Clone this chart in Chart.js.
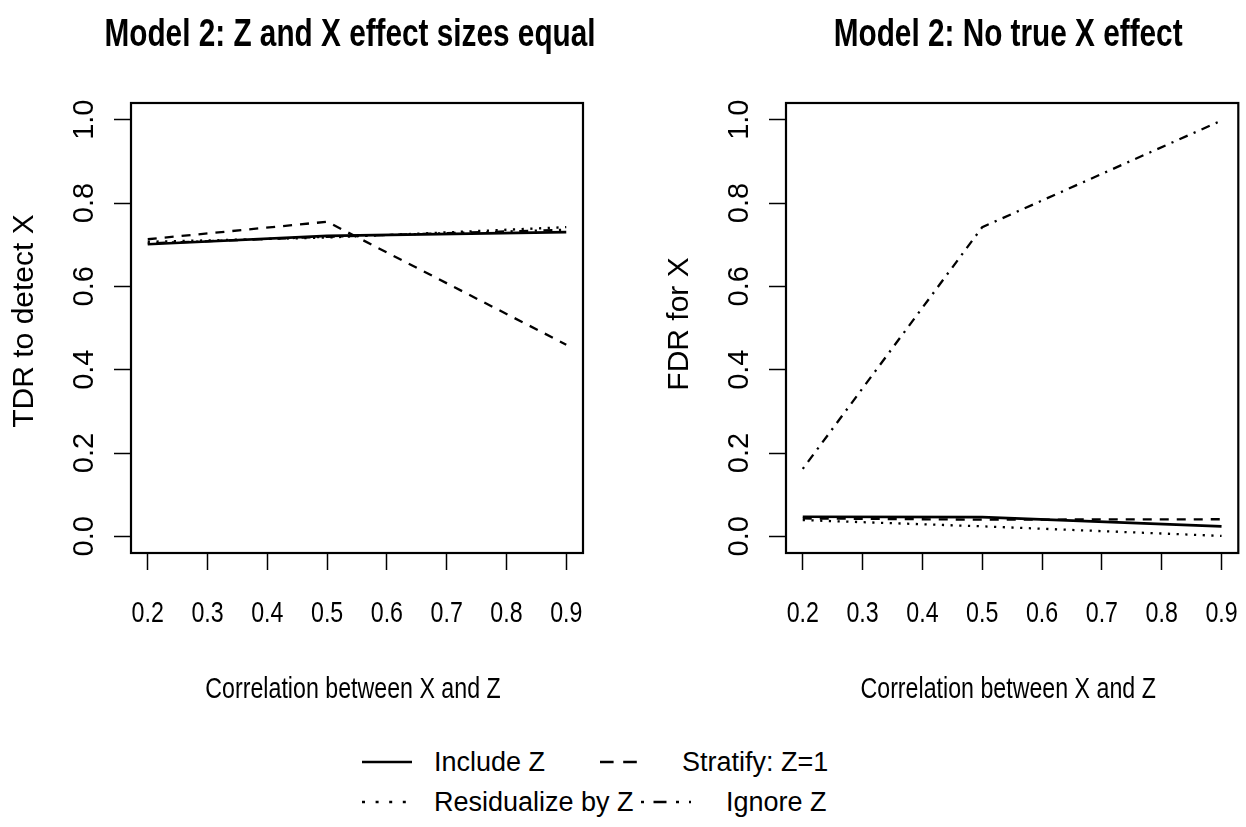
<!DOCTYPE html>
<html>
<head>
<meta charset="utf-8">
<script src="https://cdn.jsdelivr.net/npm/chart.js@4.4.1/dist/chart.umd.min.js"></script>
<style>
  body { margin: 0; background: #fff; width: 1246px; height: 827px; position: relative; overflow: hidden; }
  canvas { position: absolute; top: 0; }
  #left { left: 0; }
  #right { left: 655px; }
  .leg-text { position: absolute; font-family: 'Liberation Sans', Arial, sans-serif; font-size: 27px; line-height: 30px; color: #000; white-space: nowrap; }
  .leg-seg { position: absolute; }
</style>
</head>
<body>
<canvas id="left" width="623" height="720"></canvas>
<canvas id="right" width="591" height="720"></canvas>
<div id="legend"></div>
<script>
// Valeurs
const correlations = [0.2, 0.5, 0.9];
const xTicks = [0.2, 0.3, 0.4, 0.5, 0.6, 0.7, 0.8, 0.9];
const yTicks = [0, 0.2, 0.4, 0.6, 0.8, 1.0];
const methods = ['Include Z', 'Stratify: Z=1', 'Residualize by Z', 'Ignore Z'];

// Panneau gauche : TDR
const tdrInclude = [0.701, 0.721, 0.730];
const tdrStratify = [0.713, 0.755, 0.460];
const tdrResidualize = [0.707, 0.717, 0.742];
const tdrIgnore = [0.703, 0.719, 0.736];

// Panneau droit : FDR
const fdrInclude = [0.047, 0.046, 0.024];
const fdrStratify = [0.043, 0.040, 0.041];
const fdrResidualize = [0.039, 0.024, 0.001];
const fdrIgnore = [0.162, 0.742, 0.998];

// Styles des lignes (comme lty 1, 2, 3, 4 de R)
const dashes = [[], [9, 8], [2.2, 6.5], [2.2, 6.5, 9, 6.5]];
const widths = [2.6, 2.3, 2.3, 2.3];

const regular = "'Liberation Sans', Arial, sans-serif";

// Cadre autour de la zone de tracé
const boxPlugin = {
    id: 'box',
    afterDraw(chart) {
        const { ctx, chartArea: a } = chart;
        ctx.save();
        ctx.strokeStyle = '#000';
        ctx.lineWidth = 2.2;
        ctx.strokeRect(a.left, a.top, a.right - a.left, a.bottom - a.top);
        ctx.restore();
    }
};

// Textes : titre, graduations x et titre x en police étroite (comme Helvetica Narrow), titre y tourné
const panelText = {
    id: 'panelText',
    afterDraw(chart, args, opts) {
        const { ctx, chartArea: a, scales } = chart;
        const cx = (a.left + a.right) / 2;
        const cy = (a.top + a.bottom) / 2;
        const put = (text, x, y, font, sx, rot) => {
            ctx.save();
            ctx.translate(x, y);
            if (rot) ctx.rotate(rot);
            ctx.scale(sx, 1);
            ctx.font = font;
            ctx.fillStyle = '#000';
            ctx.textAlign = 'center';
            ctx.textBaseline = rot ? 'middle' : 'alphabetic';
            ctx.fillText(text, 0, 0);
            ctx.restore();
        };
        put(opts.title, cx + opts.titleShift, 46, 'bold 39px ' + regular, 0.763);
        xTicks.forEach(v => put(v.toFixed(1), scales.x.getPixelForValue(v), 621.5, '29px ' + regular, 0.8));
        put(opts.xTitle, cx - 4, 698, '29px ' + regular, 0.8);
        put(opts.yTitle, 25, cy + opts.yShift, '30px ' + regular, 1, -Math.PI / 2);
    }
};

const tickGrid = { drawOnChartArea: false, drawTicks: true, tickLength: 17, tickColor: '#000', tickWidth: 1.5 };

function makeChart(id, title, yLabel, series, padRight, titleShift, yShift) {
    return new Chart(document.getElementById(id), {
        type: 'line',
        data: {
            datasets: series.map((vals, i) => ({
                label: methods[i],
                data: correlations.map((c, j) => ({ x: c, y: vals[j] })),
                borderColor: '#000',
                borderWidth: widths[i],
                borderDash: dashes[i],
                pointRadius: 0,
                tension: 0,
                fill: false
            }))
        },
        options: {
            responsive: false,
            animation: false,
            layout: { padding: { left: 0, right: padRight, top: 103, bottom: 0 } },
            plugins: {
                legend: { display: false },
                tooltip: { enabled: false },
                title: { display: false },
                panelText: {
                    title: title,
                    titleShift: titleShift,
                    xTitle: 'Correlation between X and Z',
                    yTitle: yLabel,
                    yShift: yShift
                }
            },
            scales: {
                x: {
                    type: 'linear',
                    position: 'bottom',
                    min: 0.172,
                    max: 0.928,
                    afterBuildTicks: s => { s.ticks = xTicks.map(v => ({ value: v })); },
                    afterFit: s => { s.height = 167; },
                    grid: tickGrid,
                    border: { display: false },
                    ticks: { display: false, autoSkip: false }
                },
                y: {
                    type: 'linear',
                    position: 'left',
                    min: -0.04,
                    max: 1.04,
                    afterBuildTicks: s => { s.ticks = yTicks.map(v => ({ value: v })); },
                    afterFit: s => { s.width = 131; },
                    grid: tickGrid,
                    border: { display: false },
                    ticks: {
                        color: '#000',
                        font: { family: regular, size: 29 },
                        minRotation: 90,
                        maxRotation: 90,
                        crossAlign: 'center',
                        padding: 9,
                        autoSkip: false,
                        callback: v => v.toFixed(1)
                    },
                    title: { display: false }
                }
            }
        },
        plugins: [boxPlugin, panelText]
    });
}

makeChart('left', 'Model 2: Z and X effect sizes equal', 'TDR to detect X',
    [tdrInclude, tdrStratify, tdrResidualize, tdrIgnore], 40, -7, -7);
makeChart('right', 'Model 2: No true X effect', 'FDR for X',
    [fdrInclude, fdrStratify, fdrResidualize, fdrIgnore], 7.7, -4, -4);

// Légende en bas (deux lignes, deux colonnes)
const legendPos = [
    { seg: 362, text: 434, y: 762 },
    { seg: 600, text: 682, y: 762 },
    { seg: 362, text: 434, y: 802 },
    { seg: 641, text: 726, y: 802 }
];
const legendDash = ['none', '13.6 9.6 13.6 30', '3 10.6', '3 9.5 13 9.5 3 10 3 10'];
const legend = document.getElementById('legend');
methods.forEach((name, i) => {
    const p = legendPos[i];
    const svg = document.createElementNS('http://www.w3.org/2000/svg', 'svg');
    svg.setAttribute('class', 'leg-seg');
    svg.setAttribute('width', 52);
    svg.setAttribute('height', 10);
    svg.style.left = p.seg + 'px';
    svg.style.top = (p.y - 5) + 'px';
    const line = document.createElementNS('http://www.w3.org/2000/svg', 'line');
    line.setAttribute('x1', 0);
    line.setAttribute('x2', 50);
    line.setAttribute('y1', 5);
    line.setAttribute('y2', 5);
    line.setAttribute('stroke', '#000');
    line.setAttribute('stroke-width', i === 0 ? 2.6 : 2.4);
    if (legendDash[i] !== 'none') line.setAttribute('stroke-dasharray', legendDash[i]);
    svg.appendChild(line);
    legend.appendChild(svg);

    const t = document.createElement('div');
    t.className = 'leg-text';
    t.textContent = name;
    t.style.left = p.text + 'px';
    t.style.top = (p.y - 15) + 'px';
    legend.appendChild(t);
});
</script>
</body>
</html>
